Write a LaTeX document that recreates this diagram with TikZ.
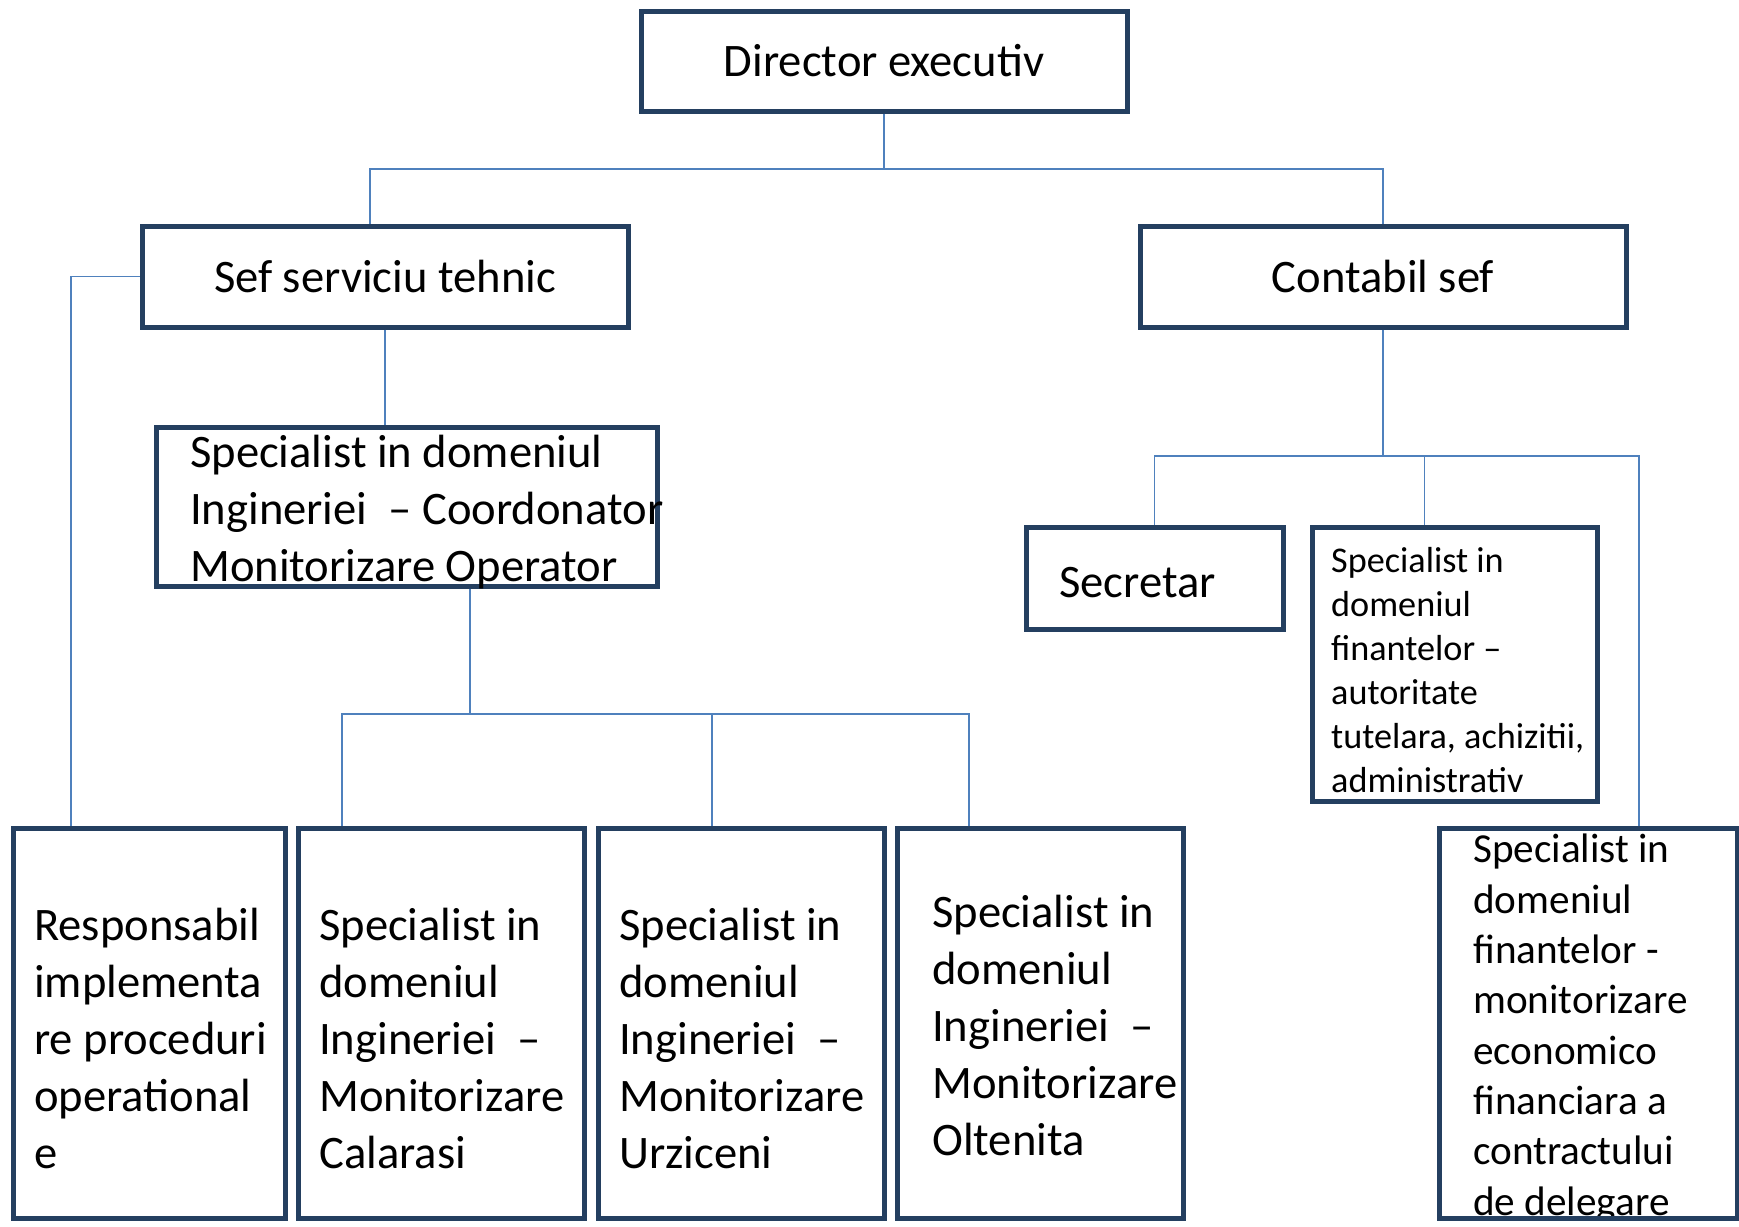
\documentclass[tikz,border=0pt]{standalone}
\usepackage{fontspec}
\setmainfont{Carlito}
\definecolor{boxline}{HTML}{243F60}
\definecolor{linkline}{HTML}{4F81BD}
\def\bigtxt{\fontsize{46.6}{57}\selectfont}
\def\fintxt{\fontsize{36.2}{44}\selectfont}
\def\montxt{\fontsize{41.2}{50.3}\selectfont}
\tikzset{
  box/.style={draw=boxline, line width=5pt, rectangle, inner sep=0pt, font=\bigtxt},
  link/.style={draw=linkline, line width=1.8pt},
  txt/.style={anchor=base west, align=left, inner sep=0pt}
}
\begin{document}
\begin{tikzpicture}[x=1pt,y=-1pt]
  \useasboundingbox (0,0) rectangle (1739,1226);
  % boxes
  \node[box, minimum width=486pt, minimum height=100pt] (dir)  at (884,61)    {\raisebox{-3pt}{Director executiv}};
  \node[box, minimum width=486pt, minimum height=101pt] (sef)  at (385,276.5) {\raisebox{-3pt}{Sef serviciu tehnic}};
  \node[box, minimum width=486pt, minimum height=101pt] (cont) at (1383,276.5) {\raisebox{-3pt}{Contabil sef}};
  \node[box, minimum width=501pt, minimum height=159pt] (coord) at (406.5,506.5) {};
  \node[box, minimum width=257pt, minimum height=102pt] (sec)  at (1154.5,578) {};
  \node[box, minimum width=285pt, minimum height=274pt] (fin)  at (1454.5,664) {};
  \node[box, minimum width=272pt, minimum height=390pt] (resp) at (149,1023)   {};
  \node[box, minimum width=286pt, minimum height=390pt] (cal)  at (441,1023)   {};
  \node[box, minimum width=286pt, minimum height=390pt] (urz)  at (741,1023)   {};
  \node[box, minimum width=286pt, minimum height=390pt] (olt)  at (1040,1023)  {};
  \node[box, minimum width=298pt, minimum height=390pt] (fmon) at (1588,1023)  {};

  % texts (placed at the baseline of their last line)
  \node[txt, font=\bigtxt] (coord-t) at (190,581) {Specialist in domeniul\\Ingineriei\ \ – Coordonator\\Monitorizare Operator};
  \node[txt, font=\bigtxt] (sec-t) at (1059,597) {Secretar};
  \node[txt, font=\fintxt] (fin-t) at (1331,792) {Specialist in\\domeniul\\finantelor –\\autoritate\\tutelara, achizitii,\\administrativ};
  \node[txt, font=\bigtxt] (resp-t) at (34,1168) {Responsabil\\implementa\\re proceduri\\operational\\e};
  \node[txt, font=\bigtxt] (cal-t) at (319,1168) {Specialist in\\domeniul\\Ingineriei\ \ –\\Monitorizare\\Calarasi};
  \node[txt, font=\bigtxt] (urz-t) at (619,1168) {Specialist in\\domeniul\\Ingineriei\ \ –\\Monitorizare\\Urziceni};
  \node[txt, font=\bigtxt] (olt-t) at (932,1155) {Specialist in\\domeniul\\Ingineriei\ \ –\\Monitorizare\\Oltenita};
  \begin{scope}
    \clip (fmon.north west) rectangle ([xshift=-2.5pt]fmon.south east |- 0,1215.5);
    \node[txt, font=\montxt] (fmon-t) at (1473,1215) {Specialist in\\domeniul\\finantelor -\\monitorizare\\economico\\financiara a\\contractului\\de delegare};
  \end{scope}

  % connectors
  \coordinate (topbus) at (884,169);
  \coordinate (midbus) at (470,714);
  \coordinate (rightbus) at (1383,456);
  \draw[link] (dir.south) -- (topbus);
  \draw[link] ([xshift=-15pt]sef.north) |- (topbus) -| (cont.north);
  \draw[link] (sef.south) -- (sef.south |- coord.north);
  \draw[link] (sef.west) -| ([xshift=-78pt]resp.north);
  \draw[link] ([xshift=63.5pt]coord.south) -- (midbus);
  \draw[link] ([xshift=-99pt]cal.north) |- (midbus) -| ([xshift=-71pt]olt.north);
  \draw[link] ([xshift=-29pt]urz.north) -- ([xshift=-29pt]urz.north |- midbus);
  \draw[link] (cont.south) -- (rightbus);
  \draw[link] (sec.north) |- (rightbus) -| ([xshift=51pt]fmon.north);
  \draw[link] ([xshift=-30pt]fin.north) -- ([xshift=-30pt]fin.north |- rightbus);
\end{tikzpicture}
\end{document}
